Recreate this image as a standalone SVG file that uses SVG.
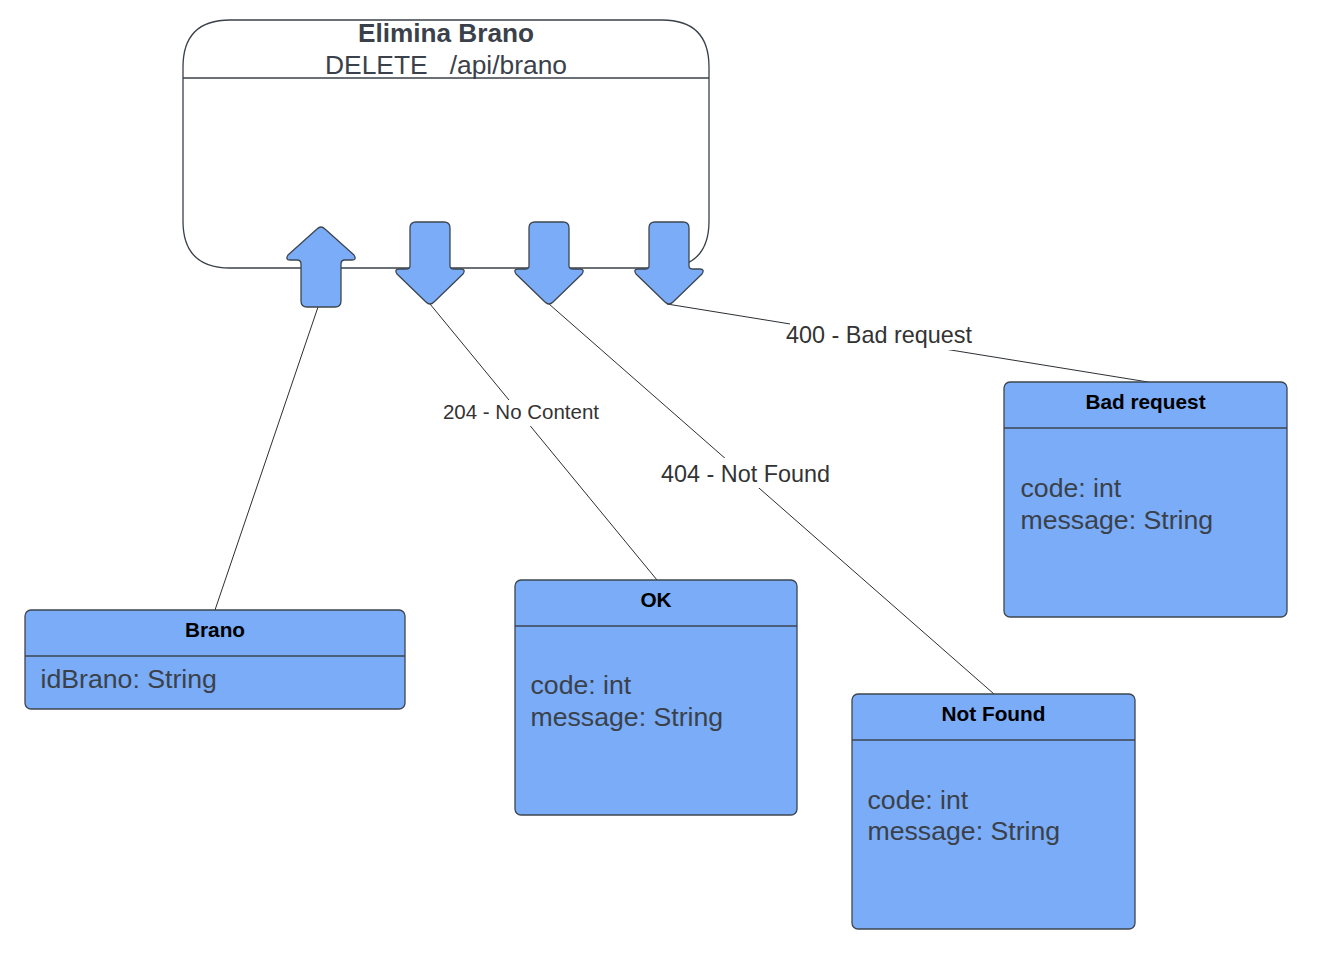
<svg xmlns="http://www.w3.org/2000/svg" width="1326" height="962" viewBox="0 0 1326 962">
<style>
.box{fill:#7aacf7;stroke:#3d4550;stroke-width:1.3}
.sep{stroke:#3d4550;stroke-width:1.3}
.title{font-family:"Liberation Sans",Arial,sans-serif;font-weight:bold;font-size:20.8px;fill:#000;text-anchor:middle}
.attr{font-family:"Liberation Sans",Arial,sans-serif;font-size:26.67px;fill:#3a414a}
.conn{stroke:#2b2f33;stroke-width:1;fill:none}
.lbl{font-family:"Liberation Sans",Arial,sans-serif;fill:#333;text-anchor:middle}
.arrow{fill:#7aacf7;stroke:#3d4550;stroke-width:1.3;stroke-linejoin:round}
</style>
<rect width="1326" height="962" fill="#fff"/>
<g id="connectors">
<line class="conn" x1="215" y1="610" x2="318" y2="307"/>
<line class="conn" x1="430" y1="304" x2="657" y2="580"/>
<line class="conn" x1="549" y1="304" x2="994" y2="694"/>
<line class="conn" x1="667" y1="304" x2="1148" y2="382"/>
<rect x="440" y="400" width="162" height="26" fill="#fff"/>
<text class="lbl" x="521" y="419" font-size="20.5">204 - No Content</text>
<rect x="656" y="458" width="180" height="30" fill="#fff"/>
<text class="lbl" x="745.5" y="481.5" font-size="23.4">404 - Not Found</text>
<rect x="790" y="322" width="178" height="28" fill="#fff"/>
<text class="lbl" x="879" y="343.3" font-size="23.4">400 - Bad request</text>
</g>
<g id="endpoint">
<path d="M230,20 H662 Q709,20 709,67 V221 Q709,268 662,268 H230 Q183,268 183,221 V67 Q183,20 230,20 Z" fill="#fff" stroke="#3a414a" stroke-width="1.3"/>
<line x1="183" y1="78" x2="709" y2="78" stroke="#3a414a" stroke-width="1.3"/>
<text x="446" y="41.5" font-family="'Liberation Sans',Arial,sans-serif" font-weight="bold" font-size="26.2" fill="#3a414a" text-anchor="middle">Elimina Brano</text>
<text x="446" y="73.5" font-family="'Liberation Sans',Arial,sans-serif" font-size="26.4" fill="#3a414a" text-anchor="middle" xml:space="preserve">DELETE   /api/brano</text>
</g>
<g id="port-in">
<path class="arrow" d="M301,301 V264 Q301,260 297,260 H290 Q285,260 288,255 L317,229 Q321,225 325,229 L354,255 Q357,260 352,260 H345 Q341,260 341,264 V301 Q341,307 335,307 H307 Q301,307 301,301 Z"/>
</g>
<g id="port-204">
<path class="arrow" d="M416,222 H444 Q450,222 450,228 V266 Q450,269 454,269 H461 Q466,269 463,274 L434,302 Q430,306 426,302 L397,274 Q394,269 399,269 H406 Q410,269 410,266 V228 Q410,222 416,222 Z"/>
</g>
<g id="port-404">
<path class="arrow" d="M535,222 H563 Q569,222 569,228 V266 Q569,269 573,269 H580 Q585,269 582,274 L553,302 Q549,306 545,302 L516,274 Q513,269 518,269 H525 Q529,269 529,266 V228 Q529,222 535,222 Z"/>
</g>
<g id="port-400">
<path class="arrow" d="M655,222 H683 Q689,222 689,228 V266 Q689,269 693,269 H700 Q705,269 702,274 L673,302 Q669,306 665,302 L636,274 Q633,269 638,269 H645 Q649,269 649,266 V228 Q649,222 655,222 Z"/>
</g>
<g id="brano">
<rect class="box" x="25" y="610" width="380" height="99" rx="6"/>
<line class="sep" x1="25" y1="656" x2="405" y2="656"/>
<text class="title" x="215" y="637">Brano</text>
<text class="attr" x="40.5" y="688">idBrano: String</text>
</g>
<g id="ok">
<rect class="box" x="515" y="580" width="282" height="235" rx="6"/>
<line class="sep" x1="515" y1="626" x2="797" y2="626"/>
<text class="title" x="656" y="607">OK</text>
<text class="attr" x="530.5" y="694">code: int</text>
<text class="attr" x="530.5" y="726">message: String</text>
</g>
<g id="notfound">
<rect class="box" x="852" y="694" width="283" height="235" rx="6"/>
<line class="sep" x1="852" y1="740" x2="1135" y2="740"/>
<text class="title" x="993.5" y="721">Not Found</text>
<text class="attr" x="867.5" y="809">code: int</text>
<text class="attr" x="867.5" y="840">message: String</text>
</g>
<g id="badrequest">
<rect class="box" x="1004" y="382" width="283" height="235" rx="6"/>
<line class="sep" x1="1004" y1="428" x2="1287" y2="428"/>
<text class="title" x="1145.5" y="409">Bad request</text>
<text class="attr" x="1020.5" y="497">code: int</text>
<text class="attr" x="1020.5" y="528.5">message: String</text>
</g>
</svg>
